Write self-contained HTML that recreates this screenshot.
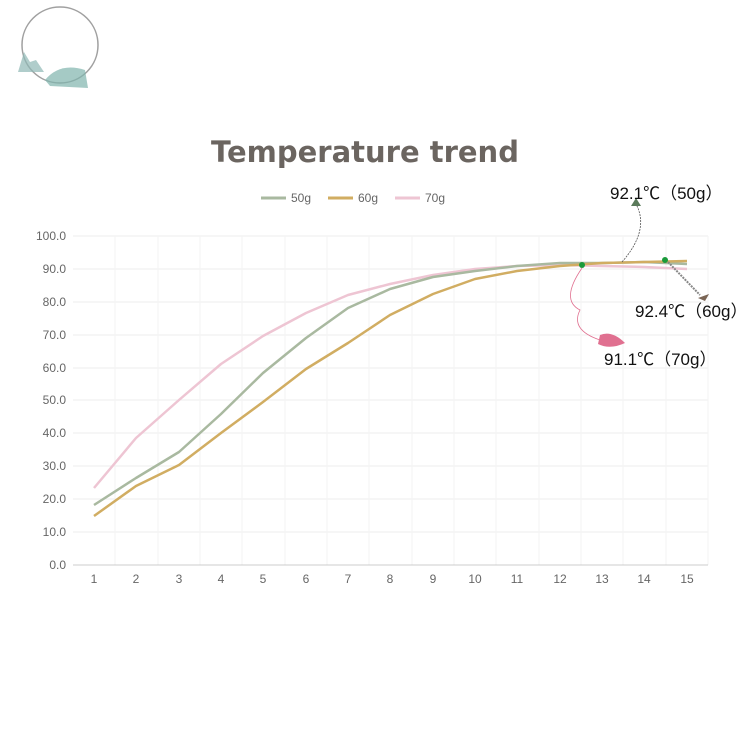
<!DOCTYPE html><html><head><meta charset="utf-8"><style>body{margin:0;background:#fff}</style></head><body>
<svg width="750" height="750" xmlns="http://www.w3.org/2000/svg" font-family="Liberation Sans, sans-serif">
<rect width="750" height="750" fill="#fff"/>
<circle cx="60" cy="45" r="38" fill="none" stroke="#888" stroke-width="1.5" opacity="0.8"/>
<path d="M18,72 L24,52 L30,62 L36,60 L44,72 Z" fill="#8fb8b5" opacity="0.7"/>
<path d="M45,80 Q60,62 85,70 L88,88 L50,86 Z" fill="#7fb3ad" opacity="0.7"/>
<text x="365" y="162" text-anchor="middle" font-family="DejaVu Sans, sans-serif" font-size="29" font-weight="bold" fill="#6b6560">Temperature trend</text>
<g font-size="12" fill="#666">
<line x1="261" y1="198" x2="286" y2="198" stroke="#a9b9a0" stroke-width="3"/><text x="291" y="202">50g</text>
<line x1="328" y1="198" x2="353" y2="198" stroke="#d1ad62" stroke-width="3"/><text x="358" y="202">60g</text>
<line x1="395" y1="198" x2="420" y2="198" stroke="#eec5d3" stroke-width="3"/><text x="425" y="202">70g</text>
</g>
<g stroke="#eee" stroke-width="1">
<line x1="73" y1="236" x2="708" y2="236"/><line x1="73" y1="269" x2="708" y2="269"/><line x1="73" y1="302" x2="708" y2="302"/><line x1="73" y1="335" x2="708" y2="335"/><line x1="73" y1="368" x2="708" y2="368"/><line x1="73" y1="400" x2="708" y2="400"/><line x1="73" y1="433" x2="708" y2="433"/><line x1="73" y1="466" x2="708" y2="466"/><line x1="73" y1="499" x2="708" y2="499"/><line x1="73" y1="532" x2="708" y2="532"/>
<path d="M115,236V565M158,236V565M200,236V565M242,236V565M285,236V565M327,236V565M369,236V565M412,236V565M454,236V565M496,236V565M539,236V565M581,236V565M623,236V565M666,236V565M708,236V565" stroke="#f3f3f3"/>
</g>
<line x1="73" y1="565" x2="708" y2="565" stroke="#ccc"/>
<g font-size="12" fill="#666" text-anchor="end">
<text x="66" y="240">100.0</text><text x="66" y="273">90.0</text><text x="66" y="306">80.0</text><text x="66" y="339">70.0</text><text x="66" y="372">60.0</text><text x="66" y="404">50.0</text><text x="66" y="437">40.0</text><text x="66" y="470">30.0</text><text x="66" y="503">20.0</text><text x="66" y="536">10.0</text><text x="66" y="569">0.0</text>
</g>
<g font-size="12" fill="#666" text-anchor="middle">
<text x="94" y="583">1</text><text x="136" y="583">2</text><text x="179" y="583">3</text><text x="221" y="583">4</text><text x="263" y="583">5</text><text x="306" y="583">6</text><text x="348" y="583">7</text><text x="390" y="583">8</text><text x="433" y="583">9</text><text x="475" y="583">10</text><text x="517" y="583">11</text><text x="560" y="583">12</text><text x="602" y="583">13</text><text x="644" y="583">14</text><text x="687" y="583">15</text>
</g>
<g fill="none" stroke-width="2.5" stroke-linejoin="round">
<polyline stroke="#eec5d3" points="94,488 136,438 179,400 221,364 263,336 306,313 348,295 390,284 433,275 475,269 517,266 560,265 602,266 644,267 687,269"/>
<polyline stroke="#a9b9a0" points="94,505 136,478 179,452 221,414 263,373 306,338 348,308 390,289 433,277 475,271 517,266 560,263 602,263 644,262 687,264"/>
<polyline stroke="#d1ad62" points="94,516 136,486 179,465 221,433 263,402 306,369 348,343 390,315 433,294 475,279 517,271 560,266 602,263 644,262 687,261"/>
</g>
<circle cx="582" cy="265" r="3" fill="#1a9a3a"/><circle cx="665" cy="260" r="3" fill="#1a9a3a"/>
<path d="M622,262 Q650,230 636,204" fill="none" stroke="#555" stroke-width="0.8" stroke-dasharray="2,1"/>
<path d="M631,206 L636,198 L641,206 Z" fill="#5a7a5a"/>
<path d="M668,262 L700,295" stroke="#888" stroke-width="2" stroke-dasharray="2,1"/>
<path d="M698,298 L709,294 L705,301 Z" fill="#7a6555"/>
<path d="M582,268 Q560,300 580,310 Q570,330 600,340" fill="none" stroke="#e07090" stroke-width="0.8"/>
<path d="M600,335 Q612,330 625,343 Q610,350 598,344 Z" fill="#e07090"/>
<g font-size="17" fill="#111" font-family="Liberation Sans, Noto Sans CJK SC, sans-serif">
<text x="610" y="199">92.1℃（50g）</text>
<text x="635" y="317">92.4℃（60g）</text>
<text x="604" y="365">91.1℃（70g）</text>
</g>
</svg></body></html>
